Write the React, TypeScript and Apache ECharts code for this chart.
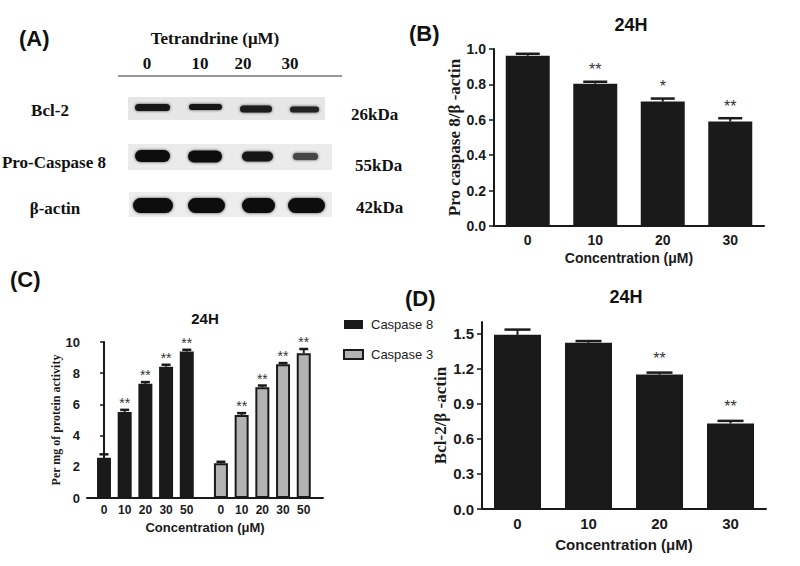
import React, { useEffect, useRef } from "react";
import * as echarts from "echarts";

// ---------- data ----------
const concB = ["0", "10", "20", "30"];
const proCasp8 = [0.962, 0.804, 0.703, 0.59];
const proCasp8Err = [0.011, 0.011, 0.017, 0.019];
const starsB = ["", "**", "*", "**"];

const concD = ["0", "10", "20", "30"];
const bcl2 = [1.49, 1.423, 1.15, 0.732];
const bcl2Err = [0.045, 0.014, 0.017, 0.022];
const starsD = ["", "", "**", "**"];
const ticksD = [0, 0.3, 0.6, 0.9, 1.2, 1.5];

const concC = ["0", "10", "20", "30", "50"];
const casp8 = [2.58, 5.52, 7.32, 8.42, 9.39];
const casp8Err = [0.22, 0.13, 0.11, 0.12, 0.11];
const casp3 = [2.22, 5.32, 7.1, 8.58, 9.28];
const casp3Err = [0.1, 0.12, 0.11, 0.07, 0.27];
const starsC8 = ["", "**", "**", "**", "**"];
const starsC3 = ["", "**", "**", "**", "**"];

const blotRows = ["Bcl-2", "Pro-Caspase 8", "β-actin"];
const blotKDa = ["26kDa", "55kDa", "42kDa"];
const blotLanes = ["0", "10", "20", "30"];

// ---------- style helpers ----------
const SANS = '"Liberation Sans", Arial, sans-serif';
const SERIF = '"Liberation Serif", "Times New Roman", serif';
const INK = "#1a1a1a";

function errSeries(name: string, xIdx: number, data: number[][], stars: string[], cap: number, off: number, fs: number) {
  return {
    type: "custom",
    name,
    xAxisIndex: xIdx,
    yAxisIndex: xIdx,
    z: 5,
    data,
    renderItem: (params: any, api: any) => {
      const x = api.value(0);
      const v = api.value(1);
      const e = api.value(2);
      const top = api.coord([x, v + e]);
      const base = api.coord([x, v]);
      const s = stars[params.dataIndex] || "";
      return {
        type: "group",
        children: [
          { type: "line", shape: { x1: top[0], y1: base[1], x2: top[0], y2: top[1] }, style: { stroke: INK, lineWidth: 2 } },
          { type: "line", shape: { x1: top[0] - cap / 2, y1: top[1], x2: top[0] + cap / 2, y2: top[1] }, style: { stroke: INK, lineWidth: 2.5 } },
          {
            type: "text",
            x: top[0],
            y: top[1] - off,
            style: { text: s, align: "center", verticalAlign: "bottom", fontSize: fs, fontFamily: SANS, fill: "#333" },
          },
        ],
      };
    },
  };
}

function buildOption() {
  // Panel C x positions (group 2 offset after a gap)
  const posC1 = concC.map((_, i) => i);
  const posC2 = concC.map((_, i) => i + 5.65);
  const posAll = [...posC1, ...posC2];
  const labelAt = (v: number) => {
    const k = posAll.findIndex((p) => Math.abs(p - v) < 1e-6);
    return k < 0 ? "" : concC[k % concC.length];
  };

  const axisLineStyle = { lineStyle: { color: INK, width: 2 } };

  // ---------- panel A graphics ----------
  const g: any[] = [];
  const txt = (text: string, x: number, y: number, font: string, size: number, align = "center", weight = "bold") =>
    g.push({
      type: "text",
      x,
      y,
      style: { text, align, verticalAlign: "middle", fontSize: size, fontWeight: weight, fontFamily: font, fill: "#111" },
    });

  txt("(A)", 19, 38, SANS, 22, "left");
  txt("(B)", 409, 33, SANS, 22, "left");
  txt("(C)", 10, 279, SANS, 22, "left");
  txt("(D)", 405, 298, SANS, 22, "left");

  txt("Tetrandrine (μM)", 215, 38, SERIF, 17);
  const laneX = [147, 200, 243, 290];
  blotLanes.forEach((l, i) => txt(l, laneX[i], 63, SERIF, 17));
  g.push({ type: "line", shape: { x1: 118, y1: 76, x2: 342, y2: 76 }, style: { stroke: "#333", lineWidth: 1.2 } });

  const rowY = [110, 162, 208];
  const rowX = [50, 54, 55];
  blotRows.forEach((r, i) => txt(r, rowX[i], rowY[i], SERIF, 17));
  const kdaX = [351, 355, 356];
  const kdaY = [114, 165, 207];
  blotKDa.forEach((k, i) => txt(k, kdaX[i], kdaY[i], SERIF, 17, "left"));

  // blot membranes
  const membranes = [
    { x: 128, y: 97, w: 197, h: 23, c: "#e6e6e6" },
    { x: 128, y: 144, w: 204, h: 26, c: "#ebebeb" },
    { x: 129, y: 192, w: 203, h: 25, c: "#ededed" },
  ];
  membranes.forEach((m) => g.push({ type: "rect", shape: { x: m.x, y: m.y, width: m.w, height: m.h }, style: { fill: m.c } }));
  // bands: [cx, cy, w, h, fill]
  const bands: any[] = [
    [152.5, 107.5, 35, 7, "#161616"], [205.5, 107, 33, 6, "#161616"], [256, 109, 32, 7, "#1c1c1c"], [304.5, 109.5, 29, 6, "#222"],
    [152.5, 156, 35, 12, "#111"], [205, 156.5, 34, 12, "#111"], [257.5, 156.5, 31, 10, "#181818"], [305.5, 156.5, 25, 7, "#444"],
    [153, 205.5, 40, 15, "#0d0d0d"], [206.5, 205.5, 37, 15, "#0d0d0d"], [258.5, 205.5, 33, 15, "#0d0d0d"], [306.5, 205.5, 37, 15, "#0d0d0d"],
  ];
  bands.forEach(([cx, cy, w, h, c]) =>
    g.push({
      type: "rect",
      shape: { x: cx - w / 2, y: cy - h / 2, width: w, height: h, r: h / 2 },
      style: { fill: c, shadowBlur: 3, shadowColor: "rgba(0,0,0,0.7)" },
    })
  );

  // titles
  txt("24H", 631, 25, SANS, 18);
  txt("24H", 205, 318, SANS, 15);
  txt("24H", 626, 297, SANS, 18);

  const gridBase = { containLabel: false, outerBoundsMode: "none" };

  return {
    animation: false,
    backgroundColor: "#ffffff",
    graphic: { elements: g },
    legend: {
      data: ["Caspase 8", "Caspase 3"],
      orient: "vertical",
      left: 338,
      top: 313,
      itemWidth: 19,
      itemHeight: 9,
      itemGap: 17,
      icon: "rect",
      selectedMode: false,
      textStyle: { fontSize: 13, fontFamily: SANS, color: "#222", padding: [0, 0, 0, 3] },
    },
    grid: [
      { ...gridBase, left: 494, top: 49, width: 270, height: 177 }, // B
      { ...gridBase, left: 87, top: 342, width: 236, height: 156 }, // C
      { ...gridBase, left: 482, top: 322, width: 284, height: 187 }, // D
    ],
    xAxis: [
      {
        gridIndex: 0,
        type: "category",
        data: concB,
        axisLine: axisLineStyle,
        axisTick: { show: false },
        axisLabel: { color: INK, fontSize: 14, fontWeight: "bold", fontFamily: SANS, margin: 7 },
        name: "Concentration (μM)",
        nameLocation: "middle",
        nameGap: 25,
        nameTextStyle: { color: INK, fontSize: 14, fontWeight: "bold", fontFamily: SANS },
      },
      {
        gridIndex: 1,
        type: "value",
        min: -0.82,
        max: 10.58,
        splitLine: { show: false },
        axisLine: axisLineStyle,
        axisTick: { show: false },
        axisLabel: {
          customValues: posAll,
          formatter: (v: number) => labelAt(v),
          color: INK,
          fontSize: 12,
          fontWeight: "bold",
          fontFamily: SANS,
          margin: 6,
          showMinLabel: true,
          showMaxLabel: true,
        },
        name: "Concentration (μM)",
        nameLocation: "middle",
        nameGap: 23,
        nameTextStyle: { color: INK, fontSize: 13, fontWeight: "bold", fontFamily: SANS },
      },
      {
        gridIndex: 2,
        type: "category",
        data: concD,
        axisLine: axisLineStyle,
        axisTick: { show: false },
        axisLabel: { color: INK, fontSize: 15, fontWeight: "bold", fontFamily: SANS, margin: 7 },
        name: "Concentration (μM)",
        nameLocation: "middle",
        nameGap: 28,
        nameTextStyle: { color: INK, fontSize: 15, fontWeight: "bold", fontFamily: SANS },
      },
    ],
    yAxis: [
      {
        gridIndex: 0,
        type: "value",
        min: 0,
        max: 1,
        interval: 0.2,
        splitLine: { show: false },
        axisLine: { show: true, ...axisLineStyle },
        axisTick: { show: true, length: 5, lineStyle: { color: INK, width: 1.5 } },
        axisLabel: { color: INK, fontSize: 14, fontWeight: "bold", fontFamily: SANS, margin: 8, formatter: (v: number) => v.toFixed(1) },
        name: "Pro caspase 8/β -actin",
        nameLocation: "middle",
        nameGap: 22,
        nameTextStyle: { color: INK, fontSize: 17, fontWeight: "bold", fontFamily: SERIF },
      },
      {
        gridIndex: 1,
        type: "value",
        min: 0,
        max: 10,
        interval: 2,
        splitLine: { show: false },
        axisLine: { show: true, ...axisLineStyle },
        axisTick: { show: true, length: 4, lineStyle: { color: INK, width: 1.5 } },
        axisLabel: { color: INK, fontSize: 13, fontWeight: "bold", fontFamily: SANS, margin: 7 },
        name: "Per mg of protein activity",
        nameLocation: "middle",
        nameGap: 25,
        nameTextStyle: { color: INK, fontSize: 12, fontWeight: "bold", fontFamily: SERIF },
      },
      {
        gridIndex: 2,
        type: "value",
        min: 0,
        max: 1.6,
        splitLine: { show: false },
        axisLine: { show: true, ...axisLineStyle },
        axisTick: { show: true, length: 5, customValues: ticksD, lineStyle: { color: INK, width: 1.5 } },
        axisLabel: {
          customValues: ticksD,
          color: INK,
          fontSize: 15,
          fontWeight: "bold",
          fontFamily: SANS,
          margin: 8,
          formatter: (v: number) => v.toFixed(1),
        },
        name: "Bcl-2/β -actin",
        nameLocation: "middle",
        nameGap: 29,
        nameTextStyle: { color: INK, fontSize: 17, fontWeight: "bold", fontFamily: SERIF },
      },
    ],
    series: [
      {
        type: "bar",
        name: "B",
        xAxisIndex: 0,
        yAxisIndex: 0,
        data: proCasp8,
        barWidth: 44,
        itemStyle: { color: INK },
      },
      errSeries("Berr", 0, proCasp8.map((v, i) => [i, v, proCasp8Err[i]]), starsB, 24, 4, 16),
      {
        type: "bar",
        name: "Caspase 8",
        xAxisIndex: 1,
        yAxisIndex: 1,
        data: casp8.map((v, i) => [posC1[i], v]),
        barWidth: 14,
        barGap: "-100%",
        itemStyle: { color: INK },
      },
      {
        type: "bar",
        name: "Caspase 3",
        xAxisIndex: 1,
        yAxisIndex: 1,
        data: casp3.map((v, i) => [posC2[i], v]),
        barWidth: 14,
        barGap: "-100%",
        itemStyle: { color: "#b3b3b3", borderColor: INK, borderWidth: 2 },
      },
      errSeries("C8err", 1, casp8.map((v, i) => [posC1[i], v, casp8Err[i]]), starsC8, 9, 0, 14),
      errSeries("C3err", 1, casp3.map((v, i) => [posC2[i], v, casp3Err[i]]), starsC3, 9, 0, 14),
      {
        type: "bar",
        name: "D",
        xAxisIndex: 2,
        yAxisIndex: 2,
        data: bcl2,
        barWidth: 47,
        itemStyle: { color: INK },
      },
      errSeries("Derr", 2, bcl2.map((v, i) => [i, v, bcl2Err[i]]), starsD, 26, 6, 16),
    ],
  };
}

export default function App() {
  const ref = useRef<HTMLDivElement>(null);
  useEffect(() => {
    if (!ref.current) return;
    const chart = echarts.init(ref.current, null, { renderer: "svg" });
    chart.setOption(buildOption() as any);
    return () => chart.dispose();
  }, []);
  return (
    <div
      ref={ref}
      style={{ position: "fixed", left: 0, top: 0, width: 800, height: 566, background: "#fff" }}
    />
  );
}
